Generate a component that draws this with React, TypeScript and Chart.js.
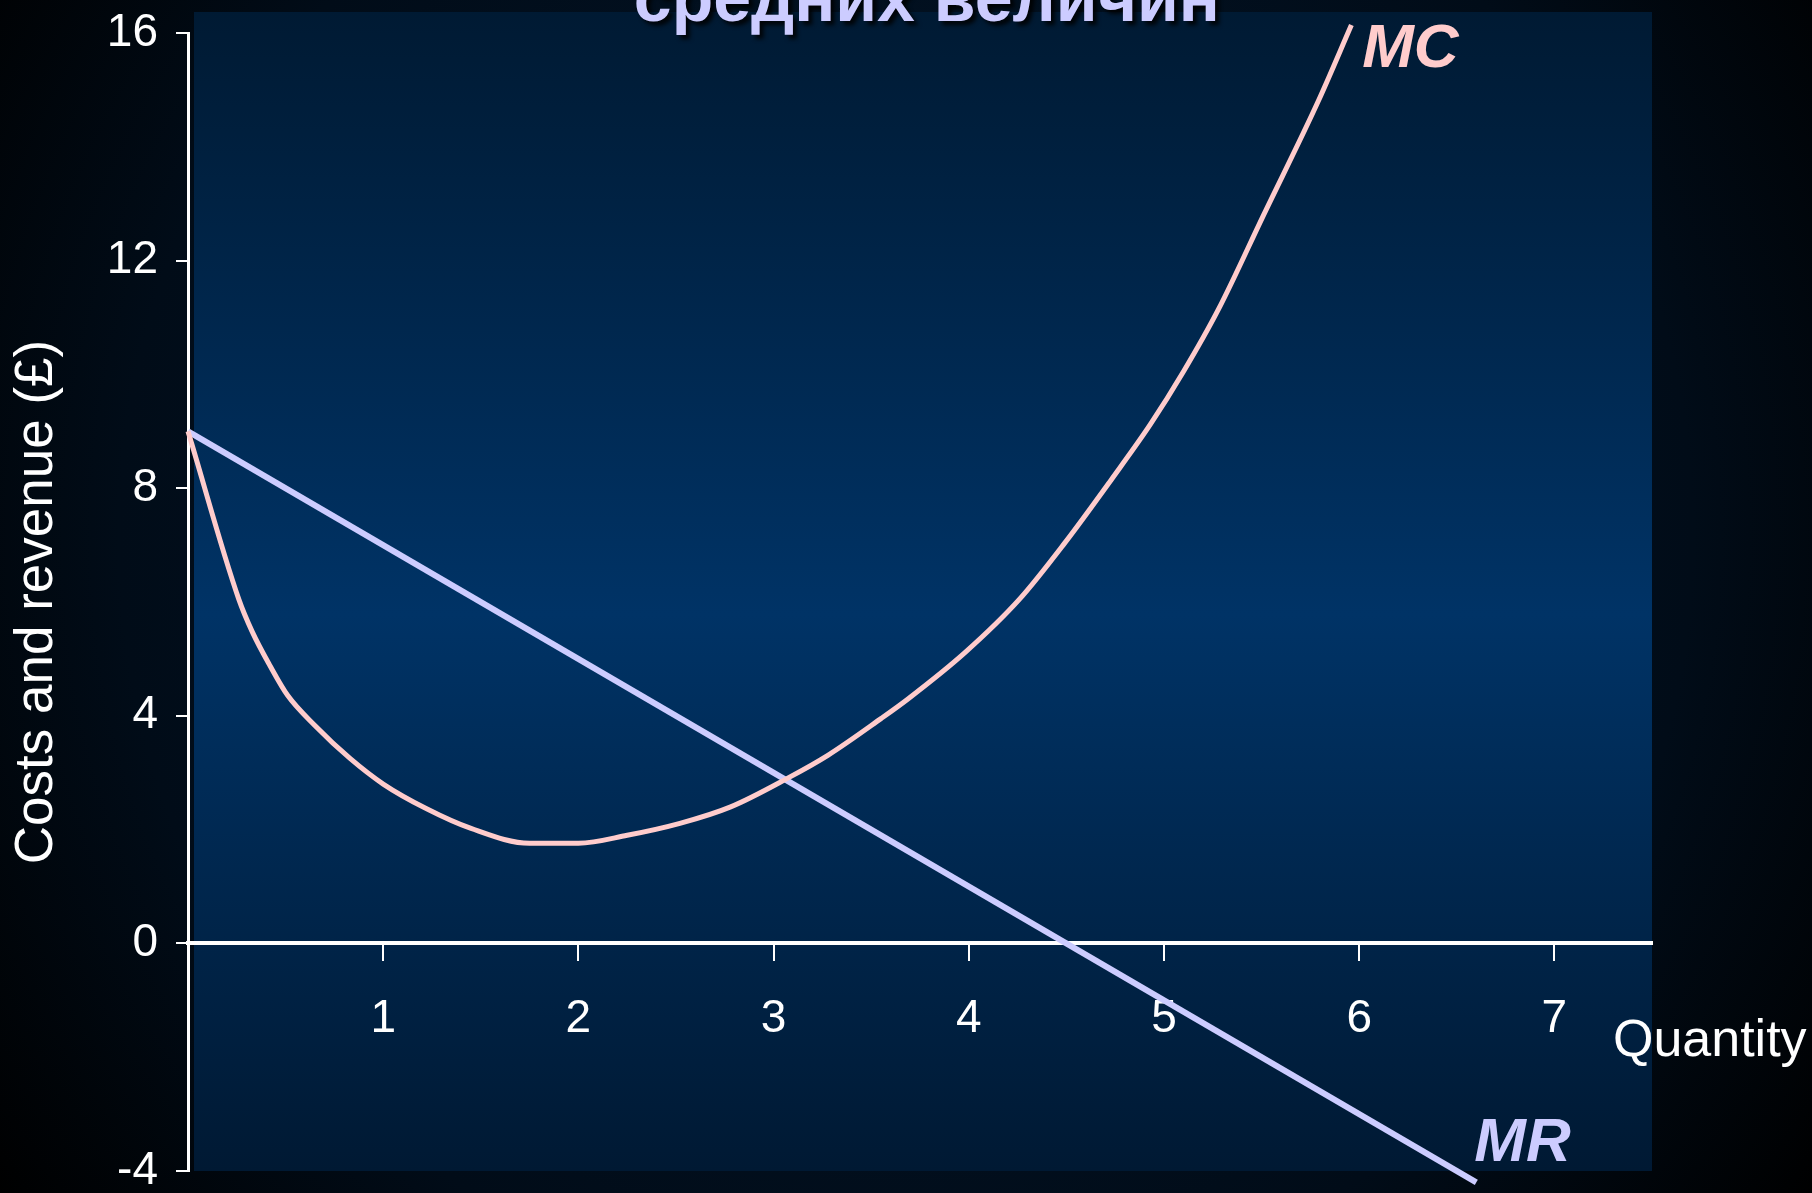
import React, { useEffect, useRef } from "react";
import { Chart, registerables } from "chart.js";

Chart.register(...registerables);

// ---- data ----
const mcQuantity = [0, 0.26, 0.33, 0.42, 0.51, 0.65, 0.83, 1.0, 1.22, 1.45, 1.75, 2.0, 2.25, 2.52, 2.78, 3.07, 3.28, 3.55, 3.69, 3.98, 4.26, 4.49, 4.73, 4.93, 5.1, 5.28, 5.51, 5.79, 5.96];
const mcCost = [9.0, 6.05, 5.47, 4.88, 4.36, 3.83, 3.25, 2.8, 2.37, 2.02, 1.76, 1.76, 1.9, 2.11, 2.4, 2.9, 3.31, 3.95, 4.3, 5.11, 6.05, 7.03, 8.15, 9.12, 10.05, 11.15, 12.8, 14.8, 16.14];
const mrQuantity = [0, 6.6];
const mrRevenue = [9, -4.2];
const xTickValues = [1, 2, 3, 4, 5, 6, 7];
const yTickValues = [-4, 0, 4, 8, 12, 16];

// ---- text ----
const titleText = "средних величин";
const yAxisTitle = "Costs and revenue (£)";
const xAxisTitle = "Quantity";
const mcLabel = "MC";
const mrLabel = "MR";

const sansFont = "'Liberation Sans', Arial, Helvetica, sans-serif";

const backgroundPlugin = {
  id: "bgPlugin",
  beforeDraw(chart: any) {
    const { ctx, width, height, chartArea } = chart;
    ctx.save();
    const rg = ctx.createRadialGradient(width * 0.5, height * 0.45, 0, width * 0.5, height * 0.45, width * 0.62);
    rg.addColorStop(0, "#03182f");
    rg.addColorStop(0.7, "#010c18");
    rg.addColorStop(1, "#000000");
    ctx.fillStyle = rg;
    ctx.fillRect(0, 0, width, height);
    const top = chartArea.top - 21;
    const bottom = chartArea.bottom;
    const left = chartArea.left + 6;
    const right = chartArea.right;
    const lg = ctx.createLinearGradient(0, top, 0, bottom);
    lg.addColorStop(0, "#001a33");
    lg.addColorStop(0.52, "#003366");
    lg.addColorStop(1, "#001933");
    ctx.fillStyle = lg;
    ctx.fillRect(left, top, right - left, bottom - top);
    ctx.restore();
  },
};

const labelPlugin = {
  id: "labelPlugin",
  afterDraw(chart: any) {
    const { ctx } = chart;
    const xs = chart.scales.x;
    const ys = chart.scales.y;
    ctx.save();
    // title (cut at the top)
    ctx.font = `bold 68px ${sansFont}`;
    ctx.textAlign = "center";
    ctx.textBaseline = "alphabetic";
    ctx.shadowColor = "rgba(0,0,0,0.85)";
    ctx.shadowOffsetX = 4;
    ctx.shadowOffsetY = 4;
    ctx.shadowBlur = 4;
    ctx.fillStyle = "#ccccff";
    ctx.fillText(titleText, xs.getPixelForValue(3.785), ys.getPixelForValue(16.21));
    ctx.shadowColor = "transparent";
    // curve labels
    ctx.textAlign = "left";
    ctx.font = `italic bold 62px ${sansFont}`;
    ctx.fillStyle = "#ffcccc";
    ctx.fillText(mcLabel, xs.getPixelForValue(6.015), ys.getPixelForValue(15.41));
    ctx.fillStyle = "#ccccff";
    ctx.fillText(mrLabel, xs.getPixelForValue(6.59), ys.getPixelForValue(-3.82));
    // x axis title
    ctx.font = `52px ${sansFont}`;
    ctx.fillStyle = "#ffffff";
    ctx.fillText(xAxisTitle, xs.getPixelForValue(7.3), ys.getPixelForValue(-1.98));
    ctx.restore();
  },
};

export default function App() {
  const canvasRef = useRef<HTMLCanvasElement>(null);

  useEffect(() => {
    document.body.style.margin = "0";
    document.body.style.overflow = "hidden";
    const canvas = canvasRef.current;
    if (!canvas) return;
    const chart = new Chart(canvas, {
      type: "line",
      data: {
        datasets: [
          {
            label: mcLabel,
            data: mcQuantity.map((q, i) => ({ x: q, y: mcCost[i] })),
            borderColor: "#ffcccc",
            borderWidth: 5,
            pointRadius: 0,
            cubicInterpolationMode: "monotone",
            fill: false,
            clip: false,
          },
          {
            label: mrLabel,
            data: mrQuantity.map((q, i) => ({ x: q, y: mrRevenue[i] })),
            borderColor: "#ccccff",
            borderWidth: 6,
            pointRadius: 0,
            tension: 0,
            fill: false,
            clip: false,
          },
        ],
      },
      options: {
        animation: false,
        responsive: false,
        layout: { padding: { top: 33, right: 160, bottom: 22, left: 0 } },
        plugins: {
          legend: { display: false },
          tooltip: { enabled: false },
          title: { display: false },
        },
        scales: {
          x: {
            type: "linear",
            position: { y: 0 },
            min: 0,
            max: 7.5,
            afterBuildTicks: (scale: any) => {
              scale.ticks = xTickValues.map((v) => ({ value: v }));
            },
            afterFit: (scale: any) => {
              scale.paddingLeft = 0;
              scale.paddingRight = 0;
            },
            grid: {
              drawOnChartArea: false,
              drawTicks: true,
              tickLength: 16,
              color: "#ffffff",
              lineWidth: 2,
            },
            border: { display: true, color: "#ffffff", width: 4 },
            ticks: {
              color: "#ffffff",
              font: { family: sansFont, size: 46 },
              padding: 32,
              maxRotation: 0,
              autoSkip: false,
            },
          },
          y: {
            type: "linear",
            position: "left",
            min: -4,
            max: 16,
            afterBuildTicks: (scale: any) => {
              scale.ticks = yTickValues.map((v) => ({ value: v }));
            },
            afterFit: (scale: any) => {
              scale.width = 188;
              scale.paddingTop = 0;
              scale.paddingBottom = 0;
            },
            grid: {
              drawOnChartArea: false,
              drawTicks: true,
              tickLength: 12,
              color: "#ffffff",
              lineWidth: 2,
            },
            border: { display: true, color: "#ffffff", width: 3 },
            ticks: {
              color: "#ffffff",
              font: { family: sansFont, size: 46 },
              padding: 18,
            },
            title: {
              display: true,
              text: yAxisTitle,
              color: "#ffffff",
              font: { family: sansFont, size: 53 },
              padding: { top: 6, bottom: 0 },
            },
          },
        },
      },
      plugins: [backgroundPlugin, labelPlugin],
    } as any);
    return () => chart.destroy();
  }, []);

  return (
    <div style={{ width: 1812, height: 1193, position: "relative" }}>
      <canvas ref={canvasRef} width={1812} height={1193} style={{ display: "block", width: 1812, height: 1193 }} />
    </div>
  );
}
